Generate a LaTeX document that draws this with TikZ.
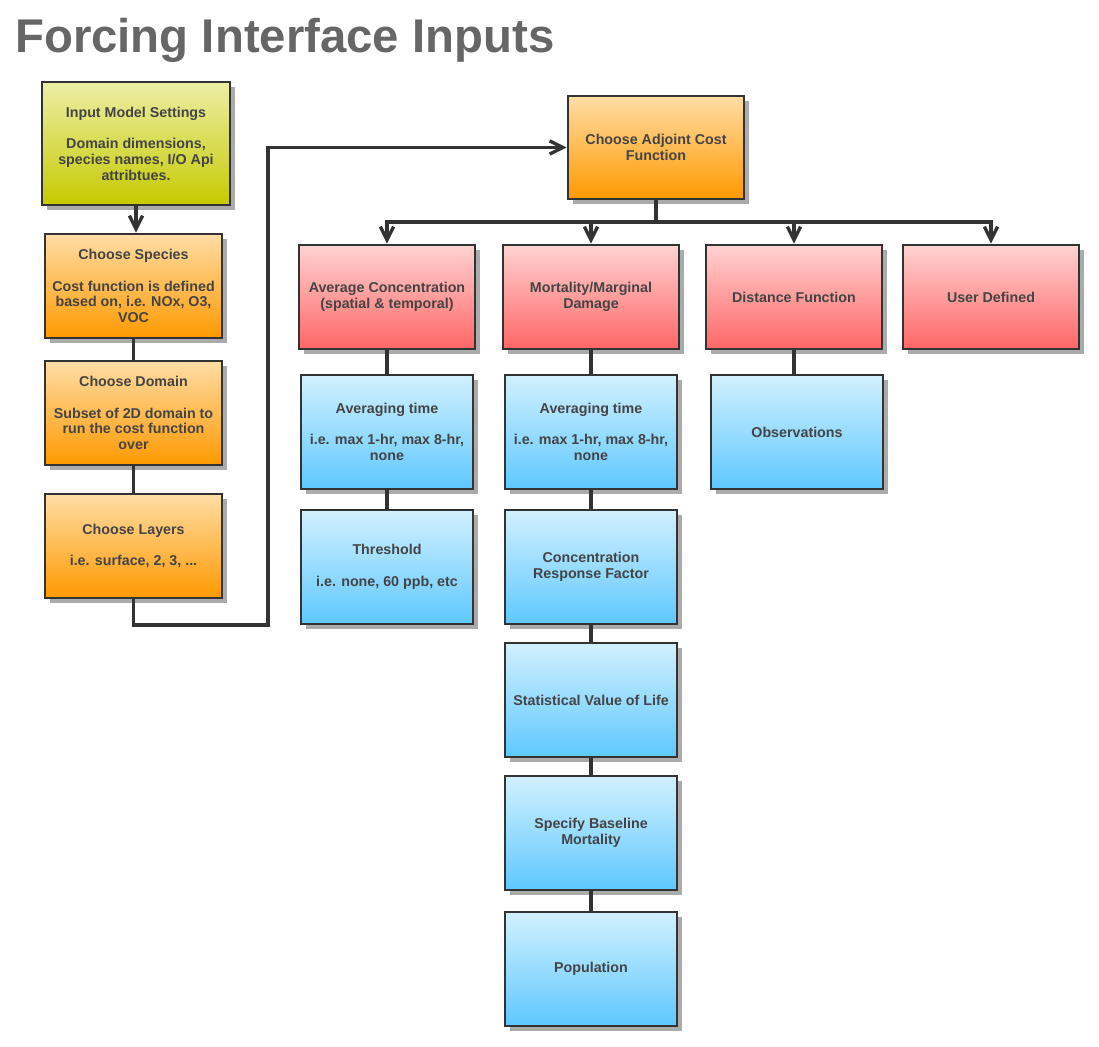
\documentclass[tikz,border=0pt]{standalone}
\usepackage{fontspec}
\setmainfont{Liberation Sans}
\usetikzlibrary{arrows.meta,positioning,shadows}
\definecolor{boxtext}{HTML}{444444}
\definecolor{titlegray}{HTML}{666666}
\definecolor{edgegray}{HTML}{333333}
\definecolor{limetop}{HTML}{ECEEA6}
\definecolor{limebot}{HTML}{C6CA00}
\definecolor{orangetop}{HTML}{FFDDA6}
\definecolor{orangebot}{HTML}{FF9900}
\definecolor{redtop}{HTML}{FFD2D2}
\definecolor{redbot}{HTML}{FF6666}
\definecolor{bluetop}{HTML}{D2F0FF}
\definecolor{bluebot}{HTML}{5EC8FF}

\begin{document}
\begin{tikzpicture}[
  x=0.75pt,y=-0.75pt,
  box/.style={draw=edgegray,line width=2pt,align=center,inner sep=3pt,
    text=boxtext,font=\fontsize{10.7}{11.8}\selectfont\bfseries,
    drop shadow={shadow xshift=3.5pt,shadow yshift=-3.5pt,fill=black!33,opacity=1}},
  setting/.style={box,top color=limetop,bottom color=limebot,
    minimum width=141pt,minimum height=92.25pt},
  choice/.style={box,top color=orangetop,bottom color=orangebot,
    minimum width=132.75pt,minimum height=78pt},
  method/.style={box,top color=redtop,bottom color=redbot,
    minimum width=132pt,minimum height=78pt},
  param/.style={box,top color=bluetop,bottom color=bluebot,
    minimum width=129pt,minimum height=85.5pt},
  flow/.style={-{Straight Barb[length=10pt,width=10pt]},line width=2.5pt,draw=edgegray},
  link/.style={line width=2.5pt,draw=edgegray}
]
\useasboundingbox (0,0) rectangle (1099,1046);
\node[anchor=base west,inner sep=0pt,text=titlegray,
  font=\fontsize{35.5}{40}\selectfont\bfseries] (title) at (15,52) {Forcing Interface Inputs};

% left column
\node[setting] (input) at (136,143.5) {Input Model Settings\\[11.8pt]Domain dimensions,\\species names, I/O Api\\attribtues.};
\node[choice] (species) at (133.5,286) {Choose Species\\[11.8pt]Cost function is defined\\based on, i.e. NOx, O3,\\VOC};
\node[choice] (domain) at (133.5,413) {Choose Domain\\[11.8pt]Subset of 2D domain to\\run the cost function\\over};
\node[choice] (layers) at (133.5,546) {Choose Layers\\[11.8pt]i.e. surface, 2, 3, ...};

% cost function and its kinds
\node[choice,minimum width=132pt,minimum height=77.25pt] (adjoint) at (656,147.5) {Choose Adjoint Cost\\Function};
\node[method] (avgconc) at (387,297) {Average Concentration\\(spatial \& temporal)};
\node[method] (mortality) at (591,297) {Mortality/Marginal\\Damage};
\node[method] (distance) at (794,297) {Distance Function};
\node[method] (userdef) at (991,297) {User Defined};

% parameters
\node[param] (avgtimeA) at (387,432) {Averaging time\\[11.8pt]i.e. max 1-hr, max 8-hr,\\none};
\node[param] (threshold) at (387,567) {Threshold\\[11.8pt]i.e. none, 60 ppb, etc};
\node[param] (avgtimeB) at (591,432) {Averaging time\\[11.8pt]i.e. max 1-hr, max 8-hr,\\none};
\node[param] (crf) at (591,567) {Concentration\\Response Factor};
\node[param] (vsl) at (591,700) {Statistical Value of Life};
\node[param] (baseline) at (591,833) {Specify Baseline\\Mortality};
\node[param] (population) at (591,969) {Population};
\node[param] (observations) at (797,432) {Observations};

\coordinate (bend) at (268,625);
\coordinate (bus) at (656,222);

\draw[flow] (input.south) -- (input.south |- species.north);
\foreach \a/\b in {species/domain,domain/layers,avgconc/avgtimeA,avgtimeA/threshold,
  mortality/avgtimeB,avgtimeB/crf,crf/vsl,vsl/baseline,baseline/population}
  \draw[link] (\a.south) -- (\b.north);
\draw[link] (distance.south) -- (distance.south |- observations.north);
\draw[flow] (layers.south) |- (bend) |- (adjoint.west);
\foreach \k in {avgconc,mortality,distance,userdef}
  \draw[flow] (adjoint.south) -- (bus) -| (\k.north);
\end{tikzpicture}
\end{document}
